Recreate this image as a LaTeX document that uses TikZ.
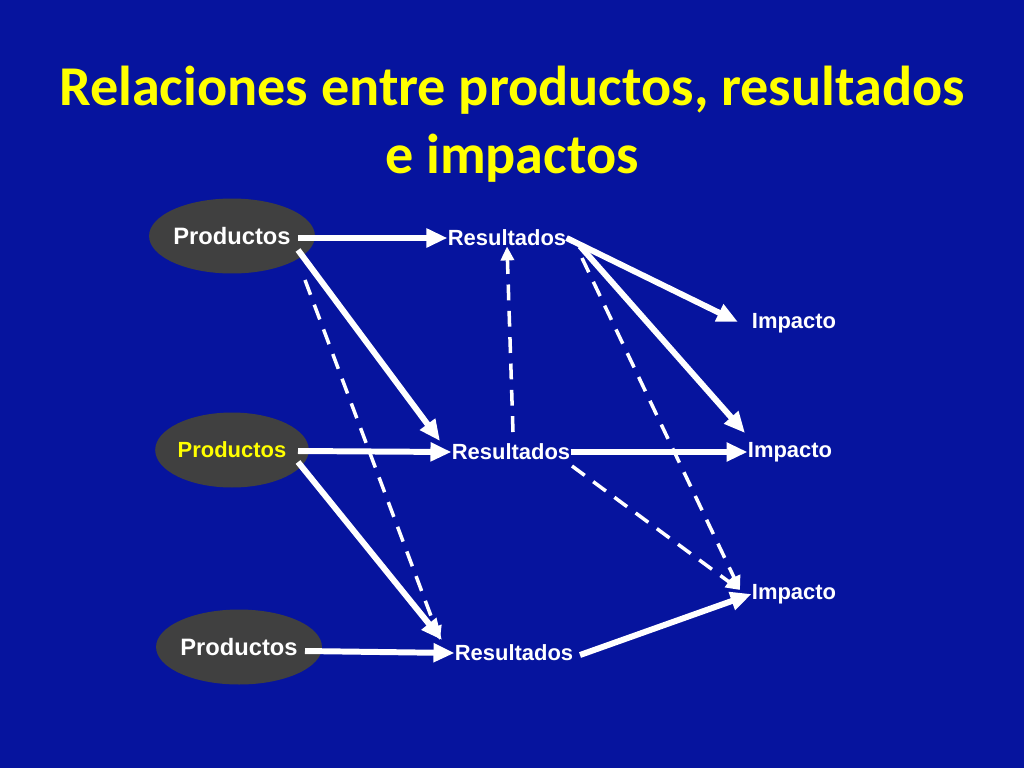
\documentclass[tikz,border=0pt]{standalone}
\usepackage{fontspec}
\setmainfont{Liberation Sans}
\newfontfamily\titlefont{Carlito}
\usetikzlibrary{arrows.meta,shapes.geometric}
\definecolor{bgblue}{RGB}{6,20,158}
\definecolor{titleyellow}{RGB}{255,255,0}
\definecolor{blobgray}{RGB}{64,64,64}
\tikzset{
  prod/.style={ellipse,fill=blobgray,minimum width=2.55cm,minimum height=1.5cm,inner sep=0pt,font=\bfseries\fontsize{13.5}{15}\selectfont},
  lbl/.style={text=white,inner sep=0pt,font=\bfseries\fontsize{12.5}{14}\selectfont},
  flow/.style={white,line width=3.4pt,-{Triangle[length=0.42cm,width=0.36cm]}},
  weak/.style={white,line width=2pt,dash pattern=on 9pt off 6pt,-{Triangle[length=0.28cm,width=0.26cm]}}
}
\begin{document}
\begin{tikzpicture}[x=0.02cm,y=-0.02cm]
	\fill[bgblue] (0,0) rectangle (1024,768);
	\useasboundingbox (0,0) rectangle (1024,768);
	%TITLE
	\node[text=titleyellow,align=center,font=\titlefont\bfseries\fontsize{32}{39}\selectfont] (title) at (512,124) {Relaciones entre productos, resultados\\e impactos};
	%PRODUCTOS
	\node[prod,text=white] (p1) at (232,236) {Productos};
	\node[prod,text=titleyellow,font=\bfseries\fontsize{12.5}{14}\selectfont] (p2) at (232,450) {Productos};
	\node[prod,text=white] (p3) at (239,647) {Productos};
	%RESULTADOS
	\node[lbl] (r1) at (507,238) {Resultados};
	\node[lbl] (r2) at (511,452) {Resultados};
	\node[lbl] (r3) at (514,653) {Resultados};
	%IMPACTOS
	\node[lbl] (i1) at (794,323) {Impacto};
	\node[lbl] (i2) at (790,452) {Impacto};
	\node[lbl] (i3) at (794,594) {Impacto};
	%SOLID ARROWS
	\draw[flow] (298,238) -- (r1.west);
	\draw[flow] (298,250) -- (440,441);
	\draw[flow] (298,451) -- (r2.west);
	\draw[flow] (298,462) -- (442,640);
	\draw[flow] (305,651) -- (r3.west);
	\draw[flow] (r1.east) -- (738,322);
	\draw[flow] (580,246) -- (745,433);
	\draw[flow] (r2.east) -- (i2.west);
	\draw[flow] (580,655) -- (i3.west);
	%DASHED ARROWS
	\draw[weak] (305,280) -- (440,640);
	\draw[weak] (513,432) -- (r1.south);
	\draw[weak] (582,258) -- (740,590);
	\draw[weak] (572,466) -- (740,590);
\end{tikzpicture}
\end{document}
